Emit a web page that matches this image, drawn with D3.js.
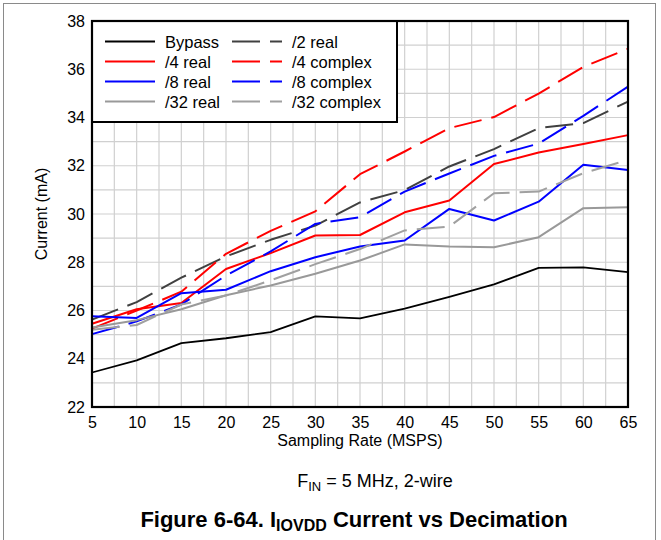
<!DOCTYPE html>
<html><head><meta charset="utf-8">
<script src="https://cdn.jsdelivr.net/npm/d3@7"></script>
<style>
html,body{margin:0;padding:0;background:#fff;}
text{font-family:"Liberation Sans",Arial,sans-serif;}
</style></head>
<body>
<svg id="c" width="661" height="540"></svg>
<script>
const sampleRates = [5,10,15,20,25,30,35,40,45,50,55,60,65];
const bypass      = [23.43,23.93,24.65,24.85,25.10,25.76,25.67,26.08,26.56,27.08,27.77,27.79,27.59];
const div2Real    = [25.62,26.35,27.36,28.24,28.93,29.52,30.48,30.99,31.97,32.69,33.56,33.77,34.66];
const div4Real    = [25.45,26.05,26.31,27.72,28.38,29.11,29.13,30.07,30.56,32.07,32.55,32.90,33.27];
const div4Complex = [25.25,26.00,26.78,28.35,29.30,30.11,31.65,32.59,33.56,34.02,34.99,36.10,36.85];
const div8Real    = [25.76,25.69,26.72,26.86,27.63,28.21,28.65,28.90,30.21,29.73,30.51,32.04,31.82];
const div8Complex = [25.02,25.55,26.25,27.45,28.45,29.59,29.87,30.93,31.68,32.41,32.92,34.07,35.28];
const div32Real   = [25.30,25.60,26.05,26.63,27.04,27.52,28.07,28.74,28.65,28.62,29.04,30.24,30.28];
const div32Complex= [25.20,25.40,26.25,26.62,27.25,27.92,28.55,29.32,29.48,30.86,30.93,31.69,32.24];
const xTicks = [5,10,15,20,25,30,35,40,45,50,55,60,65];
const yTicks = [22,24,26,28,30,32,34,36,38];

const series = [
  {name:"Bypass", values:bypass, color:"#000000", dash:null, w:1.8},
  {name:"/2 real", values:div2Real, color:"#404040", dash:"28,10", w:2},
  {name:"/4 real", values:div4Real, color:"#ff0000", dash:null, w:2},
  {name:"/4 complex", values:div4Complex, color:"#ff0000", dash:"28,10", w:2},
  {name:"/8 real", values:div8Real, color:"#0000ff", dash:null, w:2},
  {name:"/8 complex", values:div8Complex, color:"#0000ff", dash:"28,10", w:2},
  {name:"/32 real", values:div32Real, color:"#999999", dash:null, w:2},
  {name:"/32 complex", values:div32Complex, color:"#a0a0a0", dash:"28,10", w:2}
];

const svg = d3.select("#c");
const L=92, R=628, T=21, B=407;
const x = d3.scaleLinear().domain([5,65]).range([L,R]);
const y = d3.scaleLinear().domain([22,38]).range([B,T]);

// outer figure border
svg.append("rect").attr("x",3.5).attr("y",3.5).attr("width",652).attr("height",560)
  .attr("fill","none").attr("stroke","#8a8a8a").attr("stroke-width",1);

// grid
const g = svg.append("g");
const vGrid = d3.range(5,65.01,2.5);
const hGrid = d3.range(22,38.01,1);
g.selectAll(".vg").data(vGrid).enter().append("line")
  .attr("x1",d=>x(d)).attr("x2",d=>x(d)).attr("y1",T).attr("y2",B)
  .attr("stroke","#d0d0d0").attr("stroke-width",1.2);
g.selectAll(".hg").data(hGrid).enter().append("line")
  .attr("y1",d=>y(d)).attr("y2",d=>y(d)).attr("x1",L).attr("x2",R)
  .attr("stroke","#d0d0d0").attr("stroke-width",1.2);

// lines
const line = d3.line().x((d,i)=>x(sampleRates[i])).y(d=>y(d));
series.forEach(s=>{
  svg.append("path").datum(s.values).attr("d",line)
    .attr("fill","none").attr("stroke",s.color).attr("stroke-width",s.w)
    .attr("stroke-dasharray",s.dash).attr("stroke-linejoin","round");
});

// axes
const xAxis = d3.axisBottom(x).tickValues(xTicks).tickSize(0).tickPadding(10);
const yAxis = d3.axisLeft(y).tickValues(yTicks).tickSize(0).tickPadding(7);
const gx = svg.append("g").attr("transform",`translate(0,${B})`).call(xAxis);
const gy = svg.append("g").attr("transform",`translate(${L},0)`).call(yAxis);
[gx,gy].forEach(a=>{a.select(".domain").remove();
  a.selectAll("text").attr("font-size",16).attr("fill","#000").attr("font-family","Liberation Sans, Arial, sans-serif");});

// legend
const lg = svg.append("g");
lg.append("rect").attr("x",L).attr("y",T).attr("width",305).attr("height",101)
  .attr("fill","#fff").attr("stroke","#000").attr("stroke-width",2);
series.forEach((s,i)=>{
  const col = i%2, row = Math.floor(i/2);
  const lx = col===0 ? 105 : 232;
  const ly = 41.5 + row*20;
  lg.append("line").attr("x1",lx).attr("x2",lx+50).attr("y1",ly).attr("y2",ly)
    .attr("stroke",s.color).attr("stroke-width",s.w).attr("stroke-dasharray",s.dash);
  lg.append("text").attr("x",lx+60).attr("y",ly+6).attr("font-size",16.5).text(s.name);
});

// frame
svg.append("rect").attr("x",L).attr("y",T).attr("width",R-L).attr("height",B-T)
  .attr("fill","none").attr("stroke","#000").attr("stroke-width",2.2);

// axis titles
svg.append("text").attr("transform",`translate(47,${(T+B)/2}) rotate(-90)`)
  .attr("text-anchor","middle").attr("font-size",16).text("Current (mA)");
svg.append("text").attr("x",(L+R)/2).attr("y",446).attr("text-anchor","middle")
  .attr("font-size",16).text("Sampling Rate (MSPS)");

// notes
const t1 = svg.append("text").attr("x",375).attr("y",487).attr("text-anchor","middle").attr("font-size",18);
t1.append("tspan").text("F");
t1.append("tspan").attr("font-size",13).attr("dy",4).text("IN");
t1.append("tspan").attr("dy",-4).text(" = 5 MHz, 2-wire");

const t2 = svg.append("text").attr("x",354).attr("y",527).attr("text-anchor","middle")
  .attr("font-size",22).attr("font-weight","bold");
t2.append("tspan").text("Figure 6-64. I");
t2.append("tspan").attr("font-size",16).attr("dy",4).text("IOVDD");
t2.append("tspan").attr("dy",-4).text(" Current vs Decimation");
</script>
</body></html>
